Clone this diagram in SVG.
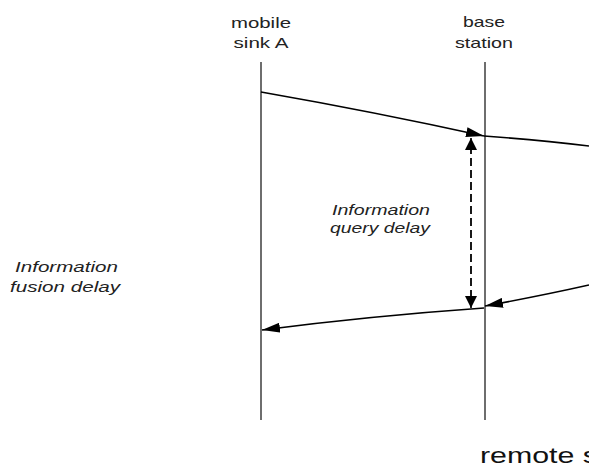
<svg xmlns="http://www.w3.org/2000/svg" width="589" height="468" viewBox="0 0 589 468">
<defs>
<style>
.life{stroke:#6e6e6e;stroke-width:2;fill:none}
.msg{stroke:#000;stroke-width:1.6;fill:none}
.dash{stroke:#000;stroke-width:1.8;stroke-dasharray:8 4;fill:none}
.lbl{font-family:"Liberation Sans",Arial,sans-serif;font-size:15px;fill:#222}
.it{font-family:"Liberation Sans",Arial,sans-serif;font-size:15px;font-style:italic;fill:#222}
.big{font-family:"Liberation Sans",Arial,sans-serif;font-size:22px;fill:#111}
</style>
<marker id="ah" viewBox="0 0 18 10" refX="18" refY="5" markerWidth="18" markerHeight="10" markerUnits="userSpaceOnUse" orient="auto">
<path d="M0,0 L18,5 L0,10 Z" fill="#000"/>
</marker>
<marker id="ahs" viewBox="0 0 12 12" refX="12" refY="6" markerWidth="12" markerHeight="13" markerUnits="userSpaceOnUse" orient="auto">
<path d="M0,0 L12,6 L0,12 Z" fill="#000"/>
</marker>
</defs>
<rect width="589" height="468" fill="#fff"/>
<g id="mobile-sink-A">
<line class="life" x1="261" y1="62" x2="261" y2="420"/>
<text class="lbl" x="261" y="28" text-anchor="middle" textLength="60" lengthAdjust="spacingAndGlyphs">mobile</text>
<text class="lbl" x="261" y="48" text-anchor="middle" textLength="55" lengthAdjust="spacingAndGlyphs">sink A</text>
</g>
<g id="base-station">
<line class="life" x1="485" y1="62" x2="485" y2="420"/>
<text class="lbl" x="484" y="27" text-anchor="middle" textLength="42" lengthAdjust="spacingAndGlyphs">base</text>
<text class="lbl" x="484" y="48" text-anchor="middle" textLength="58" lengthAdjust="spacingAndGlyphs">station</text>
</g>
<g id="remote-sink">
<text class="big" x="480" y="463" textLength="118" lengthAdjust="spacingAndGlyphs">remote s</text>
</g>
<g id="labels">
<text class="it" x="381" y="215" text-anchor="middle" textLength="98" lengthAdjust="spacingAndGlyphs">Information</text>
<text class="it" x="380" y="233" text-anchor="middle" textLength="100" lengthAdjust="spacingAndGlyphs">query delay</text>
<text class="it" x="15" y="272" textLength="103" lengthAdjust="spacingAndGlyphs">Information</text>
<text class="it" x="10" y="292" textLength="110" lengthAdjust="spacingAndGlyphs">fusion delay</text>
</g>
<g id="connectors">
<path class="msg" d="M261,92 Q375,112 484,136" marker-end="url(#ah)"/>
<path class="msg" d="M484,136 Q540,140 589,146"/>
<path class="msg" d="M589,285 Q540,296 485,306" marker-end="url(#ah)"/>
<path class="msg" d="M484,308 Q370,316 262,330" marker-end="url(#ah)"/>
<line class="dash" x1="471" y1="146" x2="471" y2="300"/>
<line class="msg" x1="471" y1="150" x2="471" y2="138" marker-end="url(#ahs)"/>
<line class="msg" x1="471" y1="296" x2="471" y2="308" marker-end="url(#ahs)"/>
</g>
</svg>
